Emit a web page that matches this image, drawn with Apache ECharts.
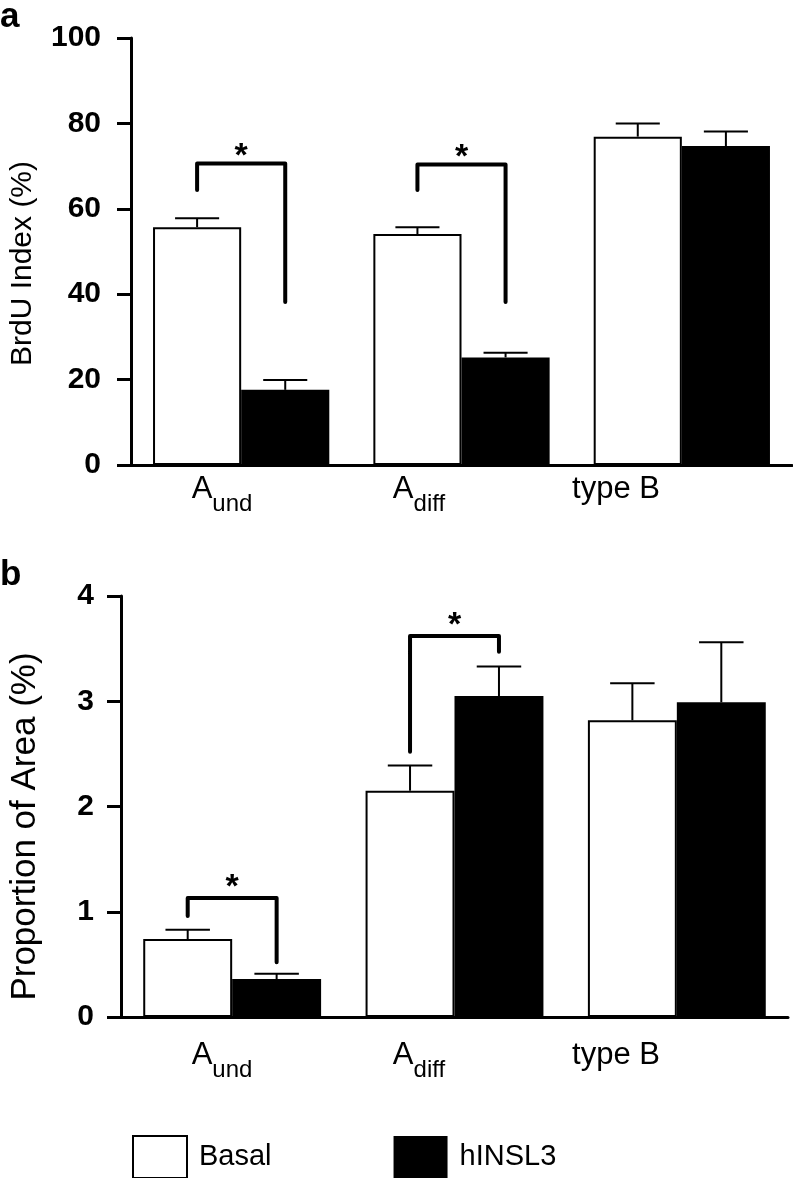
<!DOCTYPE html>
<html>
<head>
<meta charset="utf-8">
<script src="https://cdn.jsdelivr.net/npm/echarts@6/dist/echarts.min.js"></script>
<style>
html,body{margin:0;padding:0;background:#fff;}
#chart{width:793px;height:1178px;}
</style>
</head>
<body>
<div id="chart"></div>
<script>
// ---- data ----
const categories = ['A_und', 'A_diff', 'type B'];
const categoryMain = ['A', 'A', 'type B'];
const categorySub = ['und', 'diff', ''];
const seriesNames = ['Basal', 'hINSL3'];

// panel a: BrdU index (%)
const brduBasal = [55.7, 54.1, 76.9];
const brduBasalSem = [2.1, 1.6, 3.1];
const brduHinsl3 = [17.6, 25.2, 74.7];
const brduHinsl3Sem = [2.3, 1.1, 3.4];
const brduTicks = { min: 0, max: 100, interval: 20 };
// [category, left leg bottom, bracket top, right leg bottom]
const brduBrackets = [[0, 64.4, 70.6, 38.2], [1, 64.4, 70.4, 38.2]];

// panel b: proportion of area (%)
const areaBasal = [0.74, 2.15, 2.82];
const areaBasalSem = [0.09, 0.24, 0.35];
const areaHinsl3 = [0.36, 3.05, 2.99];
const areaHinsl3Sem = [0.05, 0.28, 0.57];
const areaTicks = { min: 0, max: 4, interval: 1 };
const areaBrackets = [[0, 0.96, 1.13, 0.52], [1, 2.52, 3.62, 3.47]];

// ---- styles ----
const FONT = '"Liberation Sans", Arial, Helvetica, sans-serif';
const BAR_FRAC = 0.2; // half of bar pair width relative to category band

function errRender(sign) {
  return function (params, api) {
    const cat = api.value(0);
    const bw = api.size([1, 0])[0];
    const cx = api.coord([cat, 0])[0] + sign * BAR_FRAC * bw;
    const yv = api.coord([cat, api.value(1)])[1];
    const yt = api.coord([cat, api.value(1) + api.value(2)])[1];
    const half = 0.1 * bw;
    return {
      type: 'group',
      children: [
        { type: 'line', shape: { x1: cx, y1: yv, x2: cx, y2: yt }, style: { stroke: '#000', lineWidth: 2 } },
        { type: 'line', shape: { x1: cx - half, y1: yt, x2: cx + half, y2: yt }, style: { stroke: '#000', lineWidth: 2 } }
      ]
    };
  };
}

function bracketRender(starGap) {
  return function (params, api) {
    const cat = api.value(0);
    const bw = api.size([1, 0])[0];
    const c = api.coord([cat, 0])[0];
    const xl = c - BAR_FRAC * bw, xr = c + BAR_FRAC * bw;
    const yl = api.coord([cat, api.value(1)])[1];
    const yt = api.coord([cat, api.value(2)])[1];
    const yr = api.coord([cat, api.value(3)])[1];
    return {
      type: 'group',
      children: [
        { type: 'polyline', shape: { points: [[xl, yl], [xl, yt], [xr, yt], [xr, yr]] },
          style: { fill: null, stroke: '#000', lineWidth: 4, lineCap: 'round', lineJoin: 'round' } },
        { type: 'text', x: (xl + xr) / 2, y: yt - starGap,
          style: { text: '*', font: 'bold 34px ' + FONT, fill: '#000', align: 'center', verticalAlign: 'middle' } }
      ]
    };
  };
}

function zip3(a, b, c) { return a.map((v, i) => [i, v, b[i]]); }

function yAxisCfg(grid, ticks, name, nameSize, nameGap, shift, labelMargin) {
  return {
    type: 'value', gridIndex: grid, min: ticks.min, max: ticks.max, interval: ticks.interval,
    name: name, nameLocation: 'middle', nameGap: nameGap,
    nameTextStyle: { fontSize: nameSize, color: '#000', fontFamily: FONT, padding: [0, shift, 0, 0] },
    axisLine: { show: true, lineStyle: { color: '#000', width: 3 } },
    axisTick: { show: true, length: 14, lineStyle: { color: '#000', width: 3 } },
    axisLabel: { fontSize: 30, fontWeight: 'bold', color: '#000', fontFamily: FONT, margin: labelMargin },
    splitLine: { show: false }
  };
}

function labelAxis(grid, margin) {
  return {
    type: 'category', gridIndex: grid, data: categories,
    axisLine: { show: false }, axisTick: { show: false },
    axisLabel: {
      margin: margin, color: '#000',
      formatter: function (v, i) {
        return categorySub[i] ? '{m|' + categoryMain[i] + '}{s|' + categorySub[i] + '}' : '{m|' + categoryMain[i] + '}';
      },
      rich: {
        m: { fontSize: 31, lineHeight: 31, fontFamily: FONT, color: '#000', verticalAlign: 'top' },
        s: { fontSize: 24, lineHeight: 24, fontFamily: FONT, color: '#000', verticalAlign: 'top', padding: [18, 0, 0, 0] }
      }
    }
  };
}

function mainXAxis(grid) {
  return {
    type: 'category', gridIndex: grid, data: categories,
    axisLine: { show: true, lineStyle: { color: '#000', width: 3 } },
    axisTick: { show: false }, axisLabel: { show: false }
  };
}

const basalStyle = { color: '#fff', borderColor: '#000', borderWidth: 2 };
const hinslStyle = { color: '#000', borderColor: '#000', borderWidth: 0 };

const option = {
  animation: false,
  backgroundColor: '#fff',
  graphic: [
    { type: 'text', left: 0, top: 0, style: { text: 'a', font: 'bold 35px ' + FONT, fill: '#000' } },
    { type: 'text', left: 0, top: 558, style: { text: 'b', font: 'bold 35px ' + FONT, fill: '#000' } }
  ],
  grid: [
    { left: 125, right: 1, top: 38, bottom: 713 },
    { left: 121, right: 5, top: 596, bottom: 161 },
    { left: 123.5, right: 78.5, top: 38, bottom: 713 },
    { left: 123.5, right: 78.5, top: 596, bottom: 161 }
  ],
  xAxis: [mainXAxis(0), mainXAxis(1), labelAxis(2, 9), labelAxis(3, 23)],
  yAxis: [
    yAxisCfg(0, brduTicks, 'BrdU Index (%)', 30, 93, 24, 30),
    yAxisCfg(1, areaTicks, 'Proportion of Area (%)', 35, 78, 40, 27),
    { type: 'value', gridIndex: 2, show: false, min: 0, max: 1 },
    { type: 'value', gridIndex: 3, show: false, min: 0, max: 1 }
  ],
  legend: {
    left: 132, top: 1135, padding: 0, itemWidth: 54, itemHeight: 42, itemGap: 122, icon: 'rect',
    textStyle: { fontSize: 29, color: '#000', fontFamily: FONT, padding: [0, 0, 0, 7] },
    data: [
      { name: seriesNames[0], icon: 'rect', itemStyle: basalStyle },
      { name: seriesNames[1], icon: 'rect', itemStyle: hinslStyle }
    ]
  },
  series: [
    { type: 'bar', name: seriesNames[0], xAxisIndex: 0, yAxisIndex: 0, data: brduBasal,
      barGap: '0%', barCategoryGap: '20%', itemStyle: basalStyle },
    { type: 'bar', name: seriesNames[1], xAxisIndex: 0, yAxisIndex: 0, data: brduHinsl3,
      barGap: '0%', barCategoryGap: '20%', itemStyle: hinslStyle },
    { type: 'bar', name: seriesNames[0], xAxisIndex: 1, yAxisIndex: 1, data: areaBasal,
      barGap: '0%', barCategoryGap: '20%', itemStyle: basalStyle },
    { type: 'bar', name: seriesNames[1], xAxisIndex: 1, yAxisIndex: 1, data: areaHinsl3,
      barGap: '0%', barCategoryGap: '20%', itemStyle: hinslStyle },
    { type: 'custom', xAxisIndex: 0, yAxisIndex: 0, z: 5, renderItem: errRender(-1), data: zip3(brduBasal, brduBasalSem) },
    { type: 'custom', xAxisIndex: 0, yAxisIndex: 0, z: 5, renderItem: errRender(1), data: zip3(brduHinsl3, brduHinsl3Sem) },
    { type: 'custom', xAxisIndex: 1, yAxisIndex: 1, z: 5, renderItem: errRender(-1), data: zip3(areaBasal, areaBasalSem) },
    { type: 'custom', xAxisIndex: 1, yAxisIndex: 1, z: 5, renderItem: errRender(1), data: zip3(areaHinsl3, areaHinsl3Sem) },
    { type: 'custom', xAxisIndex: 0, yAxisIndex: 0, z: 6, renderItem: bracketRender(7), data: brduBrackets },
    { type: 'custom', xAxisIndex: 1, yAxisIndex: 1, z: 6, renderItem: bracketRender(10), data: areaBrackets }
  ]
};

const chart = echarts.init(document.getElementById('chart'), null, { renderer: 'canvas' });
chart.setOption(option);
</script>
</body>
</html>
